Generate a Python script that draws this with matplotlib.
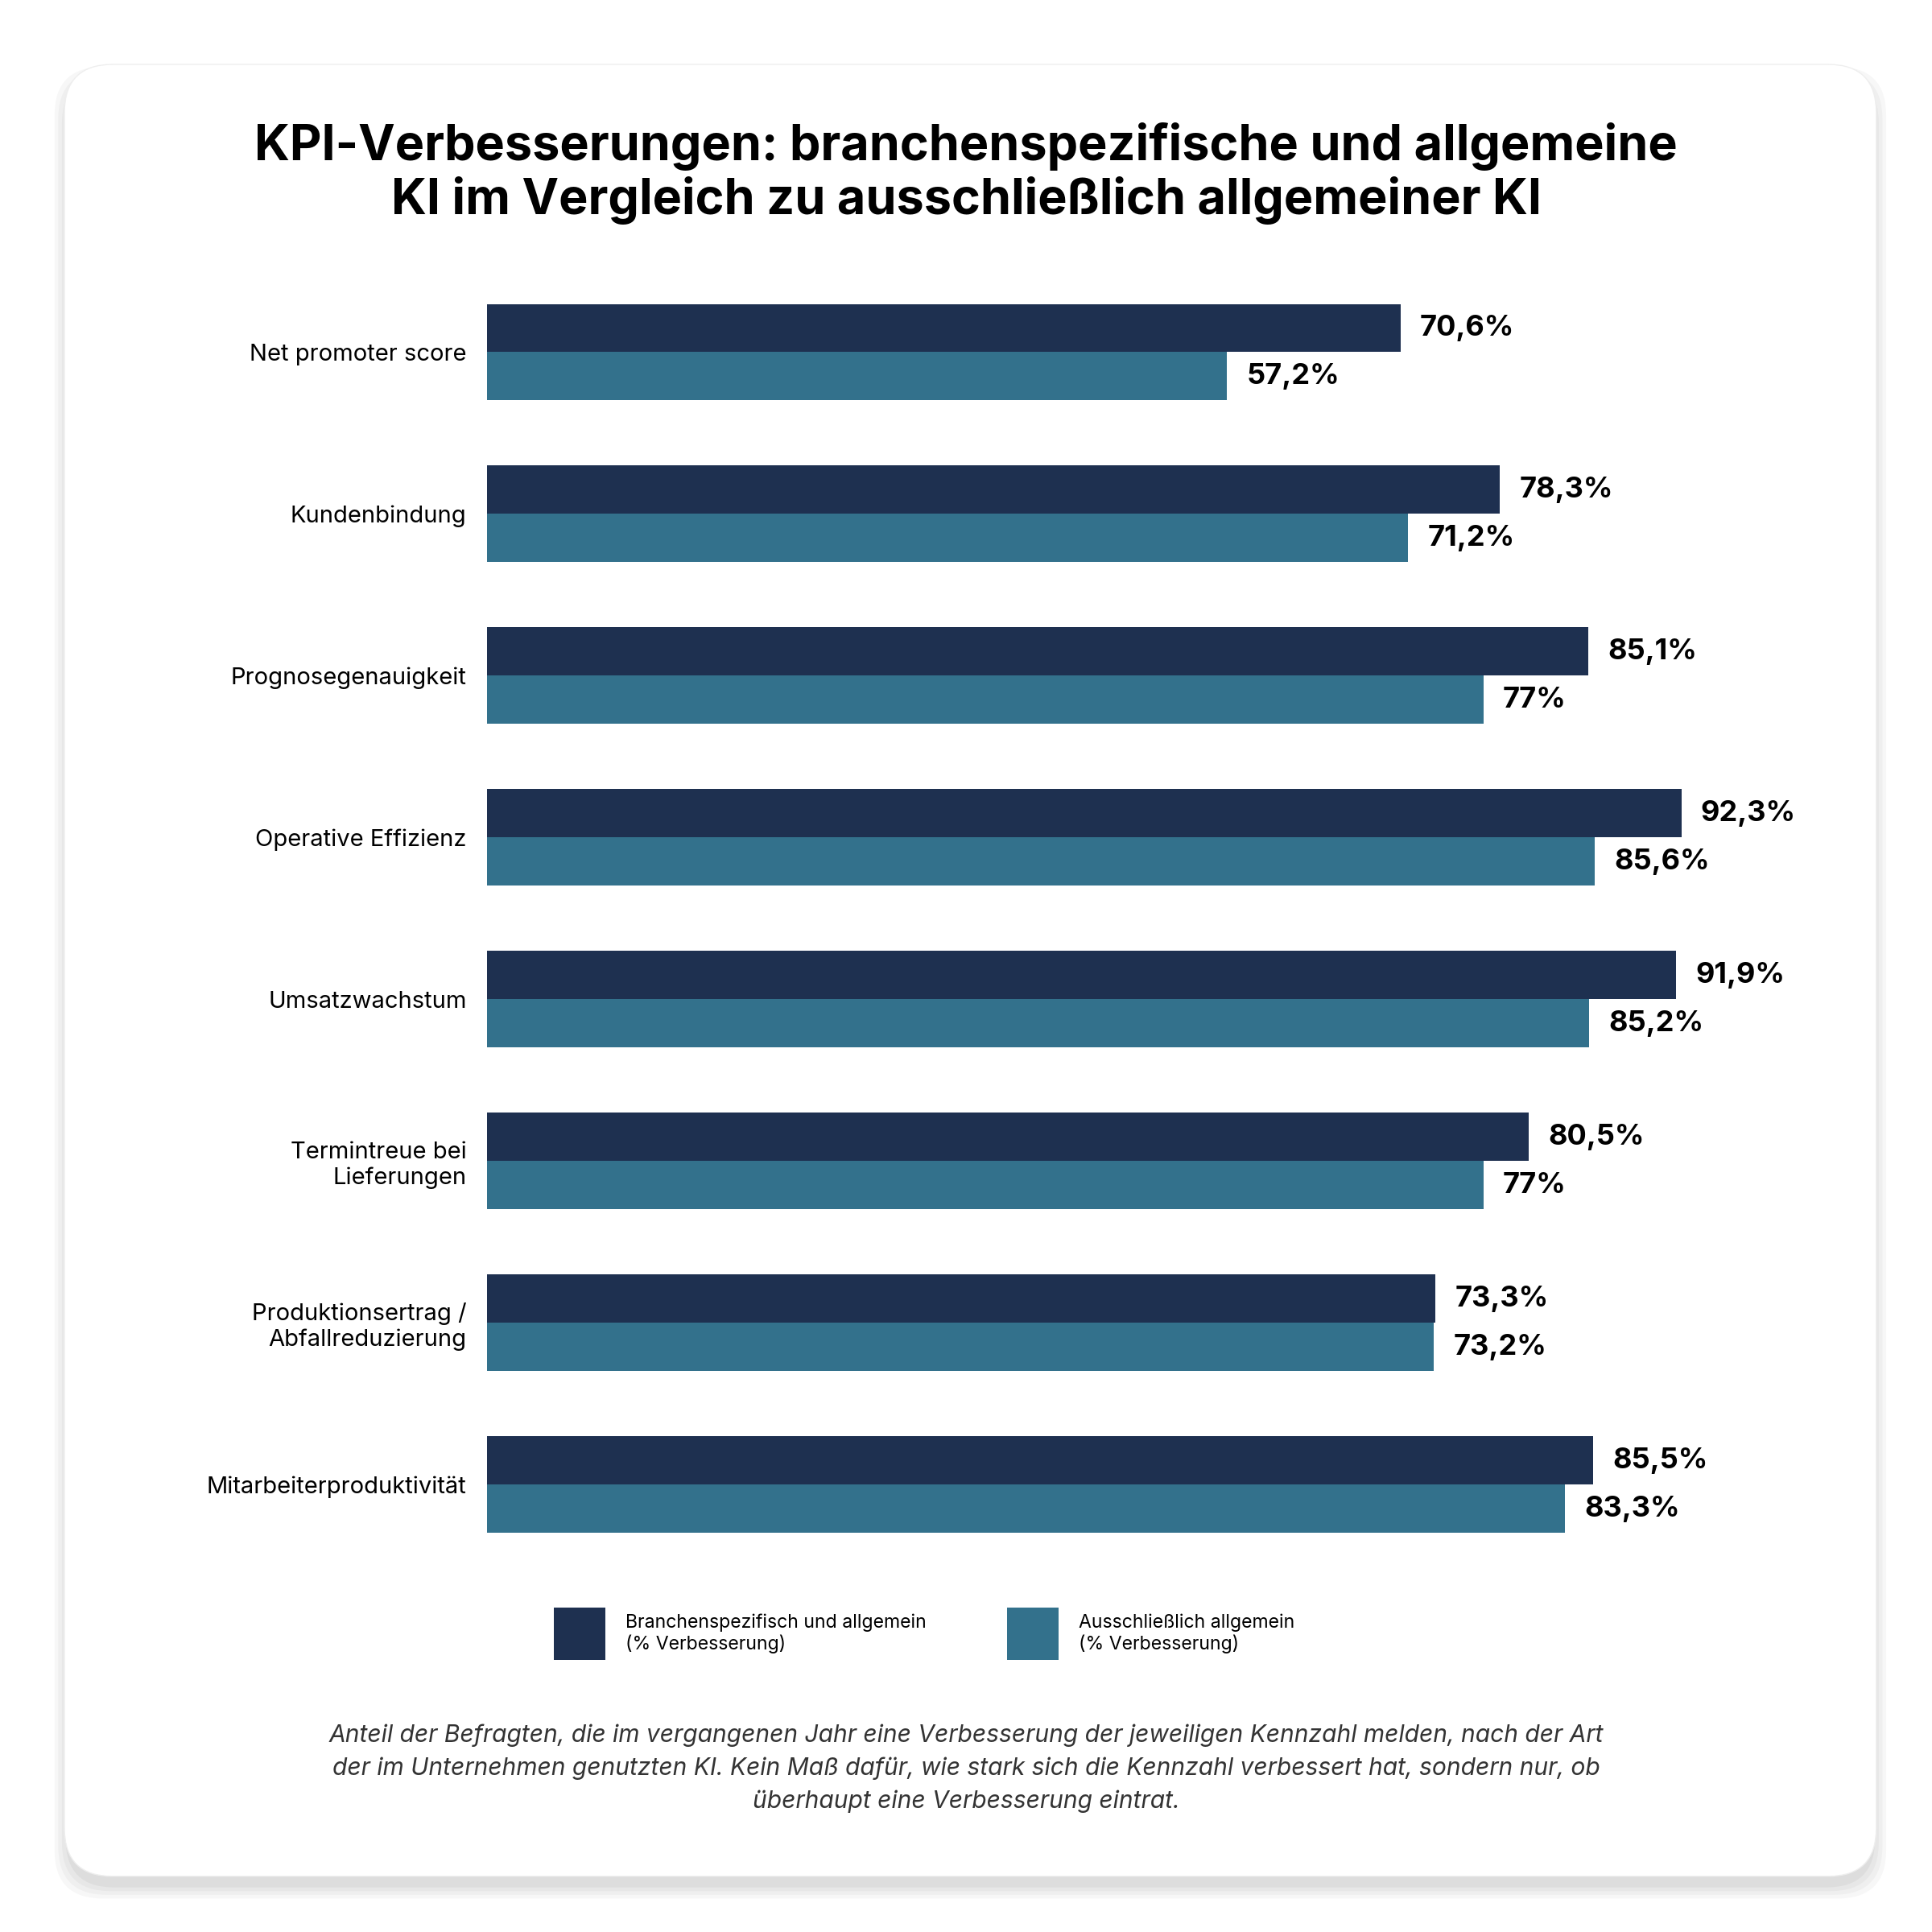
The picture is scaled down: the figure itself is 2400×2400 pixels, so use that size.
import matplotlib.pyplot as plt
from matplotlib.patches import FancyBboxPatch, Rectangle

plt.rcParams['font.family'] = ['Inter', 'DejaVu Sans']

categories = ["Net promoter score", "Kundenbindung", "Prognosegenauigkeit",
              "Operative Effizienz", "Umsatzwachstum", "Termintreue bei\nLieferungen",
              "Produktionsertrag /\nAbfallreduzierung", "Mitarbeiterproduktivität"]
spezifisch = [70.6, 78.3, 85.1, 92.3, 91.9, 80.5, 73.3, 85.5]
allgemein = [57.2, 71.2, 77, 85.6, 85.2, 77, 73.2, 83.3]
spez_labels = ["70,6%", "78,3%", "85,1%", "92,3%", "91,9%", "80,5%", "73,3%", "85,5%"]
allg_labels = ["57,2%", "71,2%", "77%", "85,6%", "85,2%", "77%", "73,2%", "83,3%"]
legend_names = ["Branchenspezifisch und allgemein\n(% Verbesserung)",
                "Ausschließlich allgemein\n(% Verbesserung)"]

c_dark = "#1e3050"
c_teal = "#33718c"
W = 1560.0

def fx(px):
    return px / W

def fy(py):
    return 1 - py / W

fig = plt.figure(figsize=(12, 12), dpi=200)
fig.patch.set_facecolor("white")

# card with soft shadow
for i, a in enumerate([0.03, 0.03, 0.03, 0.04]):
    off = (4 - i) * 3
    fig.patches.append(FancyBboxPatch((fx(52 - off + 4), fy(1515 + off + 6)),
                                      fx(1463 + 2 * off - 8), fx(1463 + 2 * off - 8),
                                      boxstyle="round,pad=0,rounding_size=0.025",
                                      transform=fig.transFigure, fc="black", ec="none", alpha=a, zorder=0))
fig.patches.append(FancyBboxPatch((fx(52), fy(1515)), fx(1463), fx(1463),
                                  boxstyle="round,pad=0,rounding_size=0.025",
                                  transform=fig.transFigure, fc="white", ec="#eeeeee", lw=0.5, zorder=1))

fig.text(0.5, fy(140), "KPI-Verbesserungen: branchenspezifische und allgemeine\nKI im Vergleich zu ausschließlich allgemeiner KI",
         ha="center", va="center", fontsize=22, fontweight="bold", color="black", linespacing=1.15, zorder=3)

ax = fig.add_axes([fx(393), fy(1264), fx(1045), fy(219) - fy(1264)])
ax.set_zorder(3)
ax.patch.set_alpha(0)
y = list(range(len(categories)))
h = 0.298
ax.barh([v - h / 2 for v in y], spezifisch, height=h, color=c_dark)
ax.barh([v + h / 2 for v in y], allgemein, height=h, color=c_teal)
for i in y:
    ax.text(spezifisch[i] + 1.5, i - h / 2, spez_labels[i], va="center", ha="left",
            fontsize=13, fontweight="bold")
    ax.text(allgemein[i] + 1.5, i + h / 2, allg_labels[i], va="center", ha="left",
            fontsize=13, fontweight="bold")
ax.set_xlim(0, 100)
ax.set_ylim(len(categories) - 0.5, -0.5)
ax.set_yticks(y)
ax.set_yticklabels(categories, fontsize=10.5)
ax.tick_params(axis="y", length=0, pad=9)
ax.set_xticks([])
for s in ax.spines.values():
    s.set_visible(False)

# legend
for xs, col, name in [(447, c_dark, legend_names[0]), (813, c_teal, legend_names[1])]:
    fig.patches.append(Rectangle((fx(xs), fy(1340)), fx(42), fx(42), transform=fig.transFigure,
                                 fc=col, ec="none", zorder=3))
    fig.text(fx(xs + 58), fy(1319), name, ha="left", va="center", fontsize=8.3, linespacing=1.2, zorder=3)

fig.text(0.5, fy(1428),
         "Anteil der Befragten, die im vergangenen Jahr eine Verbesserung der jeweiligen Kennzahl melden, nach der Art\n"
         "der im Unternehmen genutzten KI. Kein Maß dafür, wie stark sich die Kennzahl verbessert hat, sondern nur, ob\n"
         "überhaupt eine Verbesserung eintrat.",
         ha="center", va="center", fontsize=10.8, style="italic", color="#333333", linespacing=1.55, zorder=3)

fig.savefig("out.png", dpi=200, facecolor="white")
